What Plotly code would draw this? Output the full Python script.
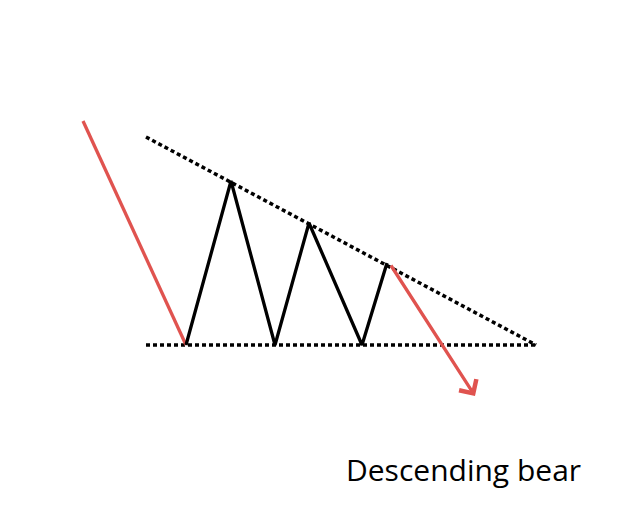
import plotly.graph_objects as go

# pontos (x, y em pixels; y cresce para baixo)
entrada_x = [83, 186]
entrada_y = [121, 345]

zigue_x = [186, 231, 275, 309, 362, 387]
zigue_y = [345, 181, 345, 223, 345, 263]

saida_x = [390, 475]
saida_y = [264, 396]

resist_x = [146, 536]
resist_y = [137, 345]

suporte_x = [146, 536]
suporte_y = [345, 345]

rotulo = "Descending bear"

VERMELHO = "#e0534f"
PONTILHADO = "4px,3px"

fig = go.Figure()

fig.add_trace(go.Scatter(x=resist_x, y=resist_y, mode="lines",
                         line=dict(color="black", width=3.5, dash=PONTILHADO)))
fig.add_trace(go.Scatter(x=suporte_x, y=suporte_y, mode="lines",
                         line=dict(color="black", width=3.5, dash=PONTILHADO)))
fig.add_trace(go.Scatter(x=entrada_x, y=entrada_y, mode="lines",
                         line=dict(color=VERMELHO, width=3.3)))
fig.add_trace(go.Scatter(x=zigue_x, y=zigue_y, mode="lines",
                         line=dict(color="black", width=3.3)))

# seta de rompimento
fig.add_annotation(x=saida_x[1], y=saida_y[1], ax=saida_x[0], ay=saida_y[0],
                   xref="x", yref="y", axref="x", ayref="y",
                   text="", showarrow=True, arrowhead=4, arrowsize=1.2,
                   arrowwidth=3.3, arrowcolor=VERMELHO)

fig.add_annotation(x=344, y=469, xref="x", yref="y", text=rotulo,
                   showarrow=False, xanchor="left", yanchor="middle",
                   font=dict(family="Open Sans", size=30, color="black"))

# a página tem margem de 8px, compensada no range
fig.update_xaxes(range=[8, 629], visible=False)
fig.update_yaxes(range=[526, 8], visible=False)

fig.update_layout(
    width=621, height=518,
    margin=dict(l=0, r=0, t=0, b=0),
    paper_bgcolor="white", plot_bgcolor="white",
    showlegend=False,
)

fig.write_html("out.html")
